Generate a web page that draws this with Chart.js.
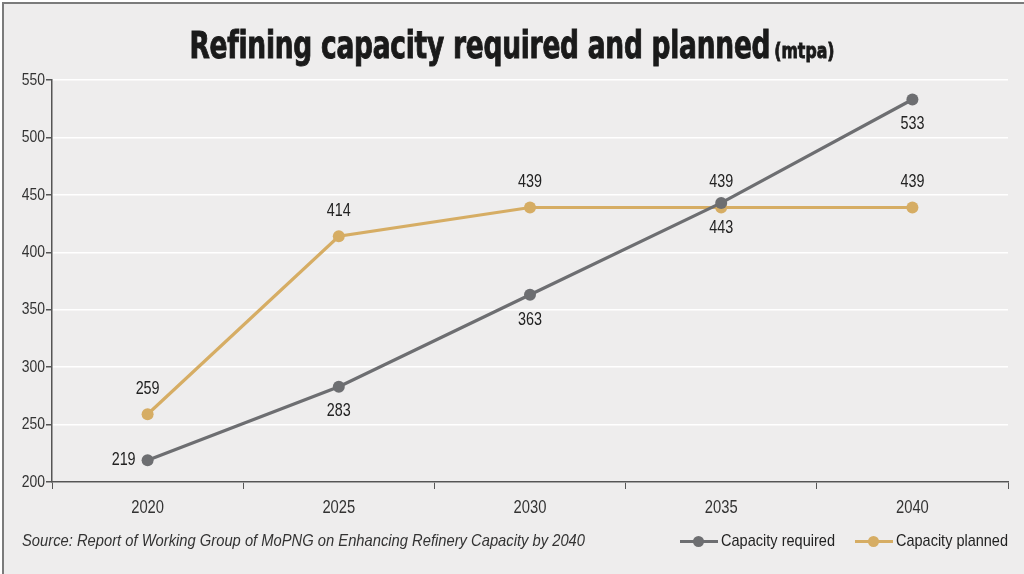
<!DOCTYPE html>
<html>
<head>
<meta charset="utf-8">
<script src="https://cdn.jsdelivr.net/npm/chart.js@4.4.1/dist/chart.umd.min.js"></script>
<style>
  html, body { margin: 0; padding: 0; background: #ffffff; }
  body { width: 1024px; height: 574px; overflow: hidden; position: relative; }
  #frame { position: absolute; left: 2px; top: 2px; width: 1022px; height: 572px;
           background: #eeeded; border-top: 2px solid #7b7b7b; border-left: 2px solid #7b7b7b; box-sizing: border-box; }
  #chart { position: absolute; left: 0; top: 0; }
  #title { position: absolute; left: 0; top: 24px; width: 1024px; text-align: center; white-space: nowrap;
           font-family: 'DejaVu Sans Condensed', 'DejaVu Sans', sans-serif; font-weight: bold; color: #1a1a1a;
           -webkit-text-stroke: 0.9px #1a1a1a; }
  #titleInner { display: inline-block; transform-origin: center center; }
  #titleMain { font-size: 37px; letter-spacing: -0.3px; }
  #titleUnit { font-size: 22px; }
  .txt { position: absolute; white-space: nowrap; font-family: 'Liberation Sans', Arial, sans-serif; transform-origin: left center; }
  #source { left: 22px; top: 531px; font-style: italic; font-size: 17px; color: #333; }
  .ln { position: absolute; height: 3px; }
  .dt { position: absolute; width: 11px; height: 11px; border-radius: 50%; }
</style>
</head>
<body>
<div id="frame"></div>
<canvas id="chart" width="1024" height="574"></canvas>
<div id="title"><span id="titleInner"><span id="titleMain">Refining capacity required and planned</span> <span id="titleUnit">(mtpa)</span></span></div>
<div id="source" class="txt">Source: Report of Working Group of MoPNG on Enhancing Refinery Capacity by 2040</div>
<div id="legend"></div>
<script>
const years = ['2020', '2025', '2030', '2035', '2040'];
const capacityRequired = [219, 283, 363, 443, 533];
const capacityPlanned = [259, 414, 439, 439, 439];
const seriesNames = ['Capacity required', 'Capacity planned'];
const yTicks = [200, 250, 300, 350, 400, 450, 500, 550];

const GRAY = '#6d6e71';
const GOLD = '#d6ad64';
const FONT = "'Liberation Sans', Arial, sans-serif";
const NARROW = 0.82; // horizontal compression to imitate a narrow sans

// label placement per dataset per point (style only)
const placement = [
  ['left', 'below', 'below', 'below', 'below'],
  ['above', 'above', 'above', 'above', 'above']
];

function narrowText(ctx, txt, x, y, align) {
  ctx.save();
  ctx.translate(x, y);
  ctx.scale(NARROW, 1);
  ctx.textAlign = align;
  ctx.textBaseline = 'middle';
  ctx.fillText(txt, 0, 0);
  ctx.restore();
}

// axis tick labels, drawn narrow at the positions given by the chart's scales
const narrowTicks = {
  id: 'narrowTicks',
  afterDraw(chart) {
    const ctx = chart.ctx;
    const xs = chart.scales.x, ys = chart.scales.y;
    ctx.save();
    ctx.fillStyle = '#333';
    ctx.font = '17px ' + FONT;
    ys.ticks.forEach(t => narrowText(ctx, String(t.value), ys.right - 7, ys.getPixelForValue(t.value), 'right'));
    ctx.font = '18px ' + FONT;
    xs.ticks.forEach((t, i) => narrowText(ctx, String(chart.data.labels[t.value]), xs.getPixelForTick(i), xs.top + 26, 'center'));
    ctx.restore();
  }
};

const valueLabels = {
  id: 'valueLabels',
  afterDatasetsDraw(chart) {
    const ctx = chart.ctx;
    ctx.save();
    ctx.font = '17.5px ' + FONT;
    ctx.fillStyle = '#222';
    chart.data.datasets.forEach((ds, di) => {
      const meta = chart.getDatasetMeta(di);
      meta.data.forEach((pt, i) => {
        const p = placement[di][i];
        const txt = String(ds.data[i]);
        if (p === 'left') narrowText(ctx, txt, pt.x - 12, pt.y, 'right');
        else if (p === 'below') narrowText(ctx, txt, pt.x, pt.y + 25, 'center');
        else narrowText(ctx, txt, pt.x, pt.y - 25, 'center');
      });
    });
    ctx.restore();
  }
};

const chart = new Chart(document.getElementById('chart'), {
  type: 'line',
  data: {
    labels: years,
    datasets: [
      { label: seriesNames[0], data: capacityRequired, borderColor: GRAY, backgroundColor: GRAY,
        pointBackgroundColor: GRAY, pointBorderWidth: 0, pointRadius: 6, borderWidth: 3.2, tension: 0 },
      { label: seriesNames[1], data: capacityPlanned, borderColor: GOLD, backgroundColor: GOLD,
        pointBackgroundColor: GOLD, pointBorderWidth: 0, pointRadius: 6, borderWidth: 3.2, tension: 0 }
    ]
  },
  options: {
    responsive: false,
    animation: false,
    devicePixelRatio: 1,
    layout: { padding: { top: 80, right: 16, left: 0, bottom: 0 } },
    plugins: { legend: { display: false }, tooltip: { enabled: false }, title: { display: false } },
    scales: {
      x: {
        type: 'category',
        offset: true,
        grid: { offset: true, drawOnChartArea: false, drawTicks: true, tickLength: 7, tickColor: '#555', lineWidth: 1 },
        border: { color: '#555', width: 1.5 },
        ticks: { display: false },
        afterFit(s) { s.height = 92; }
      },
      y: {
        min: 200, max: 550,
        afterBuildTicks(s) { s.ticks = yTicks.map(v => ({ value: v })); },
        grid: { color: '#ffffff', lineWidth: 1.5, drawTicks: true, tickLength: 6, tickColor: '#555' },
        border: { color: '#555', width: 1.5 },
        ticks: { display: false },
        afterFit(s) { s.width = 52; }
      }
    }
  },
  plugins: [valueLabels, narrowTicks]
});

// legend (HTML), symbol + text per series
const legend = document.getElementById('legend');
const legendSpec = [
  { name: seriesNames[0], col: GRAY, lineX: 680, textX: 721, textW: 114 },
  { name: seriesNames[1], col: GOLD, lineX: 855, textX: 896, textW: 112 }
];
legendSpec.forEach(s => {
  const ln = document.createElement('div');
  ln.className = 'ln';
  ln.style.cssText = 'left:' + s.lineX + 'px;top:540px;width:38px;background:' + s.col;
  const dt = document.createElement('div');
  dt.className = 'dt';
  dt.style.cssText = 'left:' + (s.lineX + 13) + 'px;top:536px;background:' + s.col;
  const tx = document.createElement('div');
  tx.className = 'txt';
  tx.textContent = s.name;
  tx.style.cssText = 'left:' + s.textX + 'px;top:531px;font-size:17px;color:#222';
  legend.appendChild(ln); legend.appendChild(dt); legend.appendChild(tx);
  const w = tx.getBoundingClientRect().width;
  tx.style.transform = 'scaleX(' + (s.textW / w) + ')';
});

// fit source width
const src = document.getElementById('source');
src.style.transform = 'scaleX(' + (563 / src.getBoundingClientRect().width) + ')';

// fit title width
const ti = document.getElementById('titleInner');
ti.style.transform = 'scaleX(' + (645 / ti.getBoundingClientRect().width) + ')';
</script>
</body>
</html>
